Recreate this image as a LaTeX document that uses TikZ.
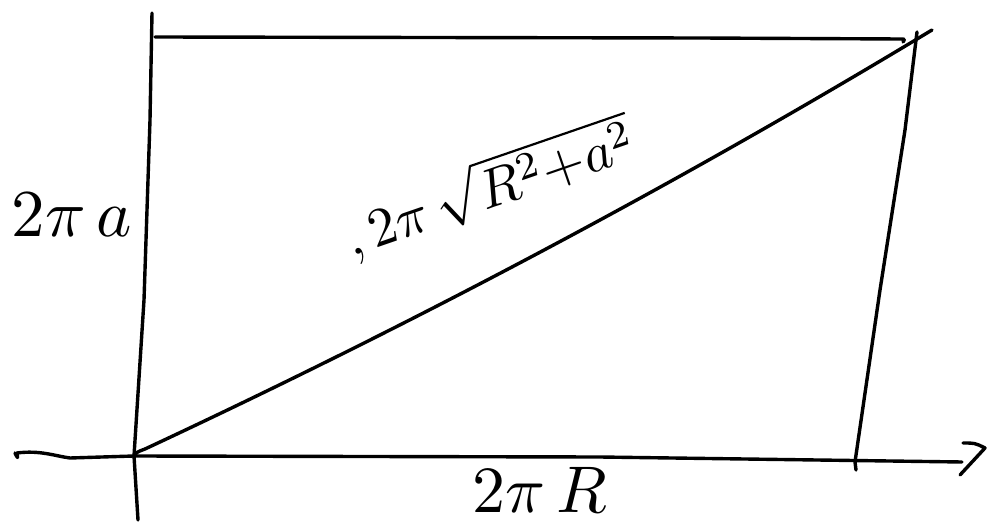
\documentclass[tikz,border=0pt]{standalone}
\usepackage{graphicx}
\begin{document}
\begin{tikzpicture}[x=1pt,y=-1pt,
  ink/.style={line width=3.4pt,line cap=round,line join=round,black},
  lbl/.style={inner sep=0pt}]
\useasboundingbox (0,0) rectangle (989,524);
% corners
\coordinate (O) at (134,456);
\coordinate (TL) at (155,37);
\coordinate (TR) at (917,32);
\coordinate (BR) at (855,462);
% left vertical axis
\draw[ink] (152,13) -- (150,120) -- (144,300) -- (O) -- (138,520);
% top edge
\draw[ink] (TL) -- (700,38) -- (900,39) .. controls (905,39) .. (903,42);
% right edge
\draw[ink] (TR) -- (905,130) -- (880,290) -- (BR) -- (856,470);
% bottom axis with arrow
\draw[ink] (15,453) .. controls (18,459) .. (17,453) .. controls (40,450) and (55,456) .. (70,458) -- (O) -- (600,457) -- (962,462);
\coordinate (A1) at (963,443);
\coordinate (A2) at (985,448);
\coordinate (A3) at (960,475);
\draw[ink] (A1) .. controls (975,443) .. (A2) -- (A3);
% diagonal
\draw[ink] (O) .. controls (137,452) .. (145,449) .. controls (415,323) and (677,184) .. (932,30);
% labels
\node[lbl] (la) at (72,215) {\scalebox{6.7}{$2\pi\,a$}};
\node[lbl] (lr) at (540,490) {\scalebox{6.6}{$2\pi\, R$}};
\node[lbl,rotate=19] (ld) at (490,188) {\scalebox{5.5}{$,2\pi\,\sqrt{R^2{+}a^2}$}};
\end{tikzpicture}
\end{document}
